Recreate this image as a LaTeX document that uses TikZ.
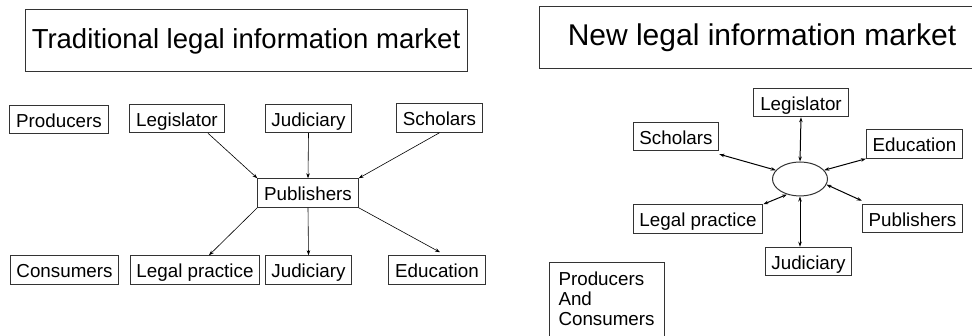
\documentclass[tikz,border=0pt]{standalone}
\usepackage{fontspec}
\setmainfont{Liberation Sans}
\usetikzlibrary{shapes.geometric,arrows.meta}

\begin{document}
\begin{tikzpicture}[
    x=1pt, y=-1pt,
    every node/.append style={font=\fontsize{18.8}{20}\selectfont},
    market/.style={rectangle, draw=black!80, line width=1pt, inner xsep=6.3pt, inner ysep=5.5pt, text height=16.5pt, text depth=1pt},
    heading/.style={rectangle, draw=black!80, line width=1pt, minimum height=62pt},
    arrow/.style={line width=0.6pt, ->, >={Stealth[length=5pt,width=3.5pt]}},
    twoway/.style={line width=1pt, <->, >={Stealth[length=5pt,width=3.5pt]}}
]
    \useasboundingbox (0,0) rectangle (972,336);

    % Mercado tradicional
    \node[heading, minimum width=442pt, font=\fontsize{27.5}{30}\selectfont] (oldtitle) at (246,41) {Traditional legal information market};
    \node[market] (oldprod) at (59,119.5) {Producers};
    \node[market] (oldleg) at (177,118.5) {Legislator};
    \node[market] (oldjudtop) at (308.5,118.5) {Judiciary};
    \node[market] (oldsch) at (439.5,118) {Scholars};
    \node[market] (oldpub) at (308,193) {Publishers};
    \node[market] (oldcons) at (64.5,270) {Consumers};
    \node[market] (oldlp) at (195,270) {Legal practice};
    \node[market] (oldjudbot) at (308.5,270) {Judiciary};
    \node[market] (oldedu) at (437,270) {Education};

    % Todo pasa por los editores
    \draw[arrow] ([xshift=31pt]oldleg.south) -- (oldpub.north west);
    \draw[arrow] (oldjudtop.south) -- (oldpub.north);
    \draw[arrow] (oldsch.south) -- (oldpub.north east);
    \draw[arrow] (oldpub.south west) -- ([xshift=14pt]oldlp.north);
    \draw[arrow] (oldpub.south) -- (oldjudbot.north);
    \draw[arrow] (oldpub.south east) -- ([xshift=3pt,yshift=3pt]oldedu.north);

    % Mercado nuevo
    \node[heading, minimum width=446pt, font=\fontsize{30}{32}\selectfont] (newtitle) at (762,38) {New legal information market};
    \node[ellipse, draw=black!80, line width=1pt, minimum width=55pt, minimum height=34pt, inner sep=0pt] (hub) at (800,179) {};
    \node[market] (newleg) at (801,102.5) {Legislator};
    \node[market] (newsch) at (676,136.5) {Scholars};
    \node[market] (newedu) at (914.5,144) {Education};
    \node[market] (newlp) at (698,219) {Legal practice};
    \node[market] (newpub) at (912.5,218.5) {Publishers};
    \node[market] (newjud) at (808.5,261.5) {Judiciary};
    \node[draw=black!80, line width=1pt, anchor=north west, align=left, text width=97pt, inner xsep=9pt, inner ysep=9.5pt, text depth=56pt] (newprodcons) at (549,262) {Producers\\And\\Consumers};

    % Todos con todos, en ambos sentidos
    \draw[twoway] (newleg.south) -- (hub.north);
    \draw[twoway] ([yshift=-3pt]newsch.south east) -- (hub.160);
    \draw[twoway] (newedu.south west) -- (hub.20);
    \draw[twoway] (newlp.north east) -- (hub.230);
    \draw[twoway] ([yshift=3pt]newpub.north west) -- (hub.-12);
    \draw[twoway] (newjud.north -| hub.south) -- (hub.south);
\end{tikzpicture}
\end{document}
